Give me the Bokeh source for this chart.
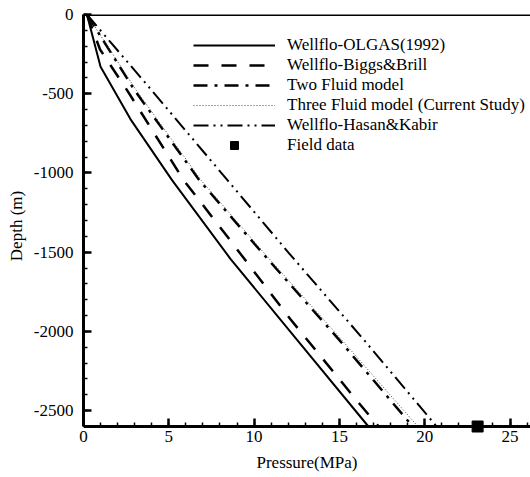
from bokeh.plotting import figure
from bokeh.models import Range1d, FixedTicker, Legend, LegendItem, Span, LinearAxis, CustomJSTickFormatter
from bokeh.embed import file_html
from bokeh.resources import INLINE

# ---- data ----
olgas_p = [0.2, 1.0, 2.75, 5.2, 8.6, 12.53, 16.7]
olgas_d = [0, -330, -660, -1047, -1540, -2055, -2600]

biggs_p = [0.2, 0.97, 2.56, 5.88, 8.44, 12.13, 16.0, 17.3]
biggs_d = [0, -221, -479, -1047, -1403, -1923, -2434, -2600]

two_p = [0.2, 3.0, 6.8, 10.5, 15.0, 19.3]
two_d = [0, -479, -1047, -1507, -2055, -2600]

three_p = [0.2, 3.1, 6.9, 10.6, 15.15, 19.6]
three_d = [0, -479, -1047, -1507, -2055, -2600]

hasan_p = [0.2, 4.0, 8.45, 12.05, 16.45, 20.7]
hasan_d = [0, -479, -1047, -1507, -2055, -2600]

field_p = [23.1]
field_d = [-2600]

x_ticks = [0, 5, 10, 15, 20, 25]
x_minor = list(range(0, 27))
y_ticks = [0, -500, -1000, -1500, -2000, -2500]
y_tick_labels = ["0", "-500", "-1000", "-1500", "-2000", "-2500"]
y_minor = list(range(0, -2700, -100))

names = ["Wellflo-OLGAS(1992)", "Wellflo-Biggs&Brill", "Two Fluid model",
         "Three Fluid model (Current Study)", "Wellflo-Hasan&Kabir", "Field data"]

FONT = "Liberation Serif"

# axis extents
X_MAX = 26.2
Y_BOTTOM = -2600
Y_TOP = 0
AXIS_PX = 412          # pixels between depth 0 and depth -2600
EXTRA_PX = 11          # extra frame below the x axis so the field-data square is not clipped
y_low = Y_BOTTOM - EXTRA_PX * (Y_TOP - Y_BOTTOM) / AXIS_PX

p = figure(width=530, height=477, output_backend="svg", toolbar_location=None,
           x_range=Range1d(0, X_MAX), y_range=Range1d(y_low, Y_TOP),
           min_border_left=83, min_border_right=0, min_border_top=14,
           min_border_bottom=51 - EXTRA_PX)
p.outline_line_color = None
p.xgrid.visible = False
p.ygrid.visible = False
p.background_fill_color = "white"
p.border_fill_color = "white"

r1 = p.line(olgas_p, olgas_d, line_color="black", line_width=2)
r2 = p.line(biggs_p, biggs_d, line_color="black", line_width=2.5, line_dash="15 13")
r3 = p.line(two_p, two_d, line_color="black", line_width=2.5, line_dash="14 7 3 7")
r4 = p.line(three_p, three_d, line_color="#444444", line_width=1, line_dash="1 2")
r5 = p.line(hasan_p, hasan_d, line_color="black", line_width=2, line_dash="15 5 2 5 2 5")
r6 = p.scatter(field_p, field_d, marker="square", size=11, fill_color="black", line_color="black")

# top border line
p.add_layout(Span(location=Y_TOP, dimension="width", line_color="black", line_width=3))

xa = p.xaxis[0]
ya = p.yaxis[0]
for ax in (xa, ya):
    ax.axis_line_width = 3
    ax.axis_line_color = "black"
    ax.major_tick_in = 8
    ax.major_tick_out = 0
    ax.minor_tick_in = 4
    ax.minor_tick_out = 0
    ax.major_tick_line_width = 2.5
    ax.minor_tick_line_width = 1.5
    ax.major_label_text_font = FONT
    ax.major_label_text_font_size = "17px"
    ax.major_label_text_color = "black"
    ax.axis_label_text_font = FONT
    ax.axis_label_text_font_size = "17px"
    ax.axis_label_text_font_style = "normal"
    ax.axis_label_text_color = "black"

# x axis line + ticks sit at depth -2600 inside the (slightly taller) frame
xa.ticker = FixedTicker(ticks=x_ticks, minor_ticks=x_minor)
xa.fixed_location = Y_BOTTOM
xa.formatter = CustomJSTickFormatter(code="return ''")

# second bottom axis carries only the tick labels and the title
xl = LinearAxis(ticker=FixedTicker(ticks=x_ticks, minor_ticks=[]),
                axis_line_color=None, major_tick_line_color=None, minor_tick_line_color=None,
                major_tick_in=0, major_tick_out=0, minor_tick_in=0, minor_tick_out=0,
                major_label_standoff=4 - EXTRA_PX,
                major_label_text_font=FONT, major_label_text_font_size="17px",
                major_label_text_color="black",
                axis_label="Pressure(MPa)", axis_label_standoff=8,
                axis_label_text_font=FONT, axis_label_text_font_size="17px",
                axis_label_text_font_style="normal", axis_label_text_color="black")
p.add_layout(xl, "below")

ya.ticker = FixedTicker(ticks=y_ticks, minor_ticks=y_minor)
ya.major_label_overrides = {t: s for t, s in zip(y_ticks, y_tick_labels)}
ya.bounds = (Y_BOTTOM, Y_TOP)
ya.axis_label = "Depth (m)"
ya.major_label_standoff = 10
ya.axis_label_standoff = 5

legend = Legend(items=[LegendItem(label=n, renderers=[r]) for n, r in zip(names, [r1, r2, r3, r4, r5, r6])],
                location=(110, 271 + EXTRA_PX), glyph_width=82, glyph_height=20, label_height=20,
                spacing=0, padding=0, margin=0, label_standoff=12,
                label_text_font=FONT, label_text_font_size="17px", label_text_color="black",
                background_fill_alpha=0, border_line_color=None)
p.add_layout(legend)

open("out.html", "w").write(file_html(p, INLINE))
